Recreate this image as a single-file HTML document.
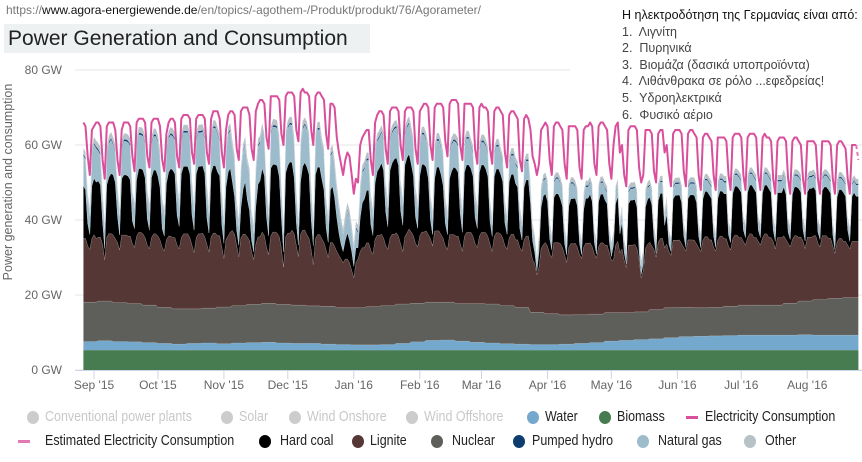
<!DOCTYPE html>
<html><head><meta charset="utf-8">
<style>
body{margin:0;background:#fff;width:862px;height:462px;overflow:hidden;position:relative;font-family:"Liberation Sans",sans-serif;}
.url{position:absolute;left:6px;top:3px;font-family:"Liberation Sans",sans-serif;font-size:12px;color:#777;}
.url b{font-weight:normal;color:#111}
.title{position:absolute;left:4px;top:24px;width:366px;height:29px;background:#eef1f2;font-family:"Liberation Sans",sans-serif;font-size:21px;color:#222;line-height:29px;padding-left:4px;box-sizing:border-box}
.greek{position:absolute;left:622px;top:7px;font-family:"Liberation Sans","Noto Sans CJK SC",sans-serif;font-size:12.5px;color:#444;line-height:16.6px}
.greek div:first-child{color:#111}
svg{position:absolute;left:0;top:0}
.li{position:absolute;white-space:nowrap;height:16px}
.dot{position:absolute;left:0;top:2px;width:12px;height:13px;border-radius:50%}
.ln{position:absolute;left:0;top:7px;width:12px;height:0;border-top:3px solid #d94f9c}
.tx{position:absolute;top:0;font-size:14.5px;line-height:16px;transform:scaleX(0.86);transform-origin:0 0;color:#222}
.off .tx{color:#c8c8c8}
</style></head><body>
<div class="url">https://<b>www.agora-energiewende.de</b>/en/topics/-agothem-/Produkt/produkt/76/Agorameter/</div>
<div class="title">Power Generation and Consumption</div>
<svg id="chart" width="862" height="462"></svg>
<div class="greek">
<div>Η ηλεκτροδότηση της Γερμανίας είναι από:</div>
<div>1.&nbsp; Λιγνίτη</div>
<div>2.&nbsp; Πυρηνικά</div>
<div>3.&nbsp; Βιομάζα (δασικά υποπροϊόντα)</div>
<div>4.&nbsp; Λιθάνθρακα σε ρόλο ...εφεδρείας!</div>
<div>5.&nbsp; Υδροηλεκτρικά</div>
<div>6.&nbsp; Φυσικό αέριο</div>
</div>
<script>
const yTicks=[0,20,40,60,80];
const yTickLabels=["0 GW","20 GW","40 GW","60 GW","80 GW"];
const monthLabels=["Sep '15","Oct '15","Nov '15","Dec '15","Jan '16","Feb '16","Mar '16","Apr '16","May '16","Jun '16","Jul '16","Aug '16"];
const monthDayIdx=[5,35,66,96,127,158,187,218,248,279,309,340];
// weekly series (one value per week starting Thu 27 Aug 2015)
const biomass=[5.3,5.3,5.3,5.3,5.3,5.3,5.3,5.3,5.3,5.3,5.3,5.3,5.3,5.3,5.3,5.3,5.3,5.3,5.3,5.3,5.3,5.3,5.3,5.3,5.3,5.3,5.3,5.3,5.3,5.3,5.3,5.3,5.3,5.3,5.3,5.3,5.3,5.3,5.3,5.3,5.3,5.3,5.3,5.3,5.3,5.3,5.3,5.3,5.3,5.3,5.3,5.3,5.3];
const water=[2.3,2.5,2.3,2.2,2.0,1.8,1.6,1.8,1.9,1.7,1.9,2.0,2.1,1.9,1.8,1.8,1.6,1.5,1.4,1.4,1.5,1.8,2.2,2.6,2.7,2.4,2.1,1.9,1.7,1.6,1.5,1.5,1.6,1.8,2.0,2.4,2.6,2.8,3.0,3.3,3.6,3.7,3.8,3.9,4.0,4.0,4.0,4.0,4.1,4.0,4.0,4.0,4.0];
const nuclear=[10.5,10.6,10.4,10.2,10.0,9.6,9.4,9.2,9.3,9.8,10.0,10.2,10.4,10.3,10.2,10.0,10.1,9.8,9.9,10.2,10.4,10.5,10.3,10.2,10.1,10.0,10.3,10.4,10.2,9.8,8.6,8.2,7.8,7.7,7.6,7.6,7.4,7.4,7.8,8.0,7.8,7.6,7.6,7.8,8.0,8.0,8.0,8.5,9.0,9.5,9.8,10.0,10.0];
const pumped=[0.5,0.5,0.5,0.5,0.5,0.5,0.5,0.5,0.5,0.5,0.5,0.5,0.5,0.5,0.5,0.5,0.5,0.5,0.5,0.5,0.5,0.5,0.5,0.5,0.5,0.5,0.5,0.5,0.5,0.5,0.4,0.4,0.4,0.4,0.4,0.4,0.4,0.4,0.4,0.4,0.4,0.4,0.4,0.4,0.4,0.4,0.4,0.4,0.4,0.4,0.4,0.4,0.4];
const other=[1.6,1.6,1.6,1.6,1.6,1.6,1.6,1.6,1.6,1.6,1.6,1.6,1.6,1.6,1.6,1.6,1.6,1.6,1.6,1.6,1.6,1.6,1.6,1.6,1.6,1.6,1.6,1.5,1.5,1.5,1.3,1.3,1.3,1.3,1.3,1.3,1.3,1.3,1.3,1.3,1.3,1.3,1.3,1.3,1.3,1.3,1.3,1.3,1.3,1.3,1.3,1.3,1.3];
// daily series
const lignite=[17,17,15,14,17,18,17, 17,17,15,11,17,18,18, 18,17,16,14,18,18,18, 18,18,16,15,18,19,19, 19,18,16,15,18,19,19, 19,18,16,15,18,19,19, 19,19,17,16,19,20,20, 20,19,17,15,19,20,20, 20,19,17,15,19,20,20, 19,19,16,13,18,19,20,
20,19,16,13,18,19,19, 18,17,14,12,16,18,18, 19,18,15,13,18,19,19, 19,18,15,10,18,19,19, 20,19,16,13,19,20,20, 19,18,15,11,18,19,19, 18,17,15,13,17,17,16, 15,14,13,12,13,13,12, 10,8,12,13,15,16,16, 17,17,15,14,18,19,19,
19,18,16,15,18,19,19, 19,18,16,14,18,19,20, 19,18,16,15,18,19,19, 19,18,17,15,19,19,19, 18,17,15,14,18,18,18, 18,18,16,14,18,19,19, 19,18,16,15,18,19,19, 19,18,16,14,18,19,19, 19,18,16,15,18,19,19, 18,18,16,15,18,19,19,
17,14,13,10,12,17,18, 19,18,16,15,19,19,19, 19,18,16,14,18,19,19, 19,18,16,15,18,19,19, 19,18,16,15,18,19,19, 18,18,16,14,14,18,19, 16,17,14,12,18,18,18, 18,17,14,9,11,17,18, 18,17,16,14,18,19,19, 16,17,15,14,18,18,18,
18,17,16,15,18,18,18, 18,17,16,15,18,19,19, 18,18,16,15,18,19,19, 18,18,16,15,18,19,19, 18,18,17,16,18,19,19, 18,18,17,16,18,19,19, 18,18,17,15,18,18,18, 18,17,16,15,17,18,18, 17,17,16,14,17,17,17, 17,17,15,14,17,17,17,
16,16,14,12,15,16,16, 15,15,14,13,15,15,15, 15];
const hardCoal=[14,13,6,4,14,15,15, 15,14,6,3,14,15,16, 16,15,7,4,15,16,16, 16,15,6,5,15,17,17, 17,16,7,5,16,17,17, 16,14,5,4,15,17,18, 18,17,8,6,17,18,18, 18,17,8,6,17,18,18, 18,17,7,5,17,18,18, 17,16,6,4,14,17,17,
13,10,4,3,8,12,14, 10,8,3,2,10,14,15, 17,16,8,5,18,18,18, 18,16,8,4,17,18,19, 18,15,6,3,14,17,18, 18,17,8,5,17,18,18, 16,14,6,4,14,15,13, 9,6,4,3,5,7,6, 5,3,4,3,9,12,13, 14,14,7,5,15,17,18,
19,18,9,6,18,19,20, 20,19,9,7,19,20,20, 18,16,7,5,16,18,18, 17,15,5,3,14,17,17, 16,14,6,4,15,17,18, 18,17,8,5,17,18,18, 17,16,7,5,17,18,18, 17,16,6,4,16,17,17, 16,15,6,4,15,16,16, 15,14,5,3,14,15,15,
12,5,3,1,4,11,13, 13,12,4,2,12,13,13, 12,11,3,2,11,12,12, 12,11,3,1,10,12,12, 13,12,3,1,12,13,13, 12,11,3,1,4,11,12, 5,7,2,1,11,12,12, 12,11,2,1,2,11,12, 12,11,3,1,11,12,12, 6,8,2,1,11,12,12,
12,11,3,1,11,12,12, 12,11,3,1,11,12,12, 12,11,3,1,11,12,12, 12,12,3,2,12,13,13, 13,12,3,2,12,13,13, 13,12,3,2,12,13,13, 13,12,3,2,12,12,12, 13,12,3,2,12,13,13, 13,12,3,2,12,13,13, 13,12,3,2,12,13,13,
13,12,3,1,12,13,13, 13,12,4,2,12,13,12, 12];
const naturalGas=[8,8,6,5,8,9,9, 8,8,6,5,8,9,9, 8,8,6,5,8,9,9, 9,9,6,5,9,9,9, 9,9,6,5,9,9,9, 9,8,6,5,9,9,9, 9,9,7,5,9,9,9, 9,9,7,5,9,9,9, 9,9,7,5,9,10,10, 10,9,7,5,9,10,10,
9,9,6,5,9,10,10, 9,9,6,5,9,10,10, 10,9,7,5,9,10,10, 10,9,7,5,9,10,10, 10,9,7,5,9,10,10, 10,9,7,5,9,10,10, 9,9,6,5,9,9,8, 7,6,5,4,5,6,6, 5,4,5,4,7,8,8, 8,8,6,5,8,8,8,
8,8,6,5,8,8,8, 8,8,6,5,8,8,8, 8,8,6,5,8,8,8, 7,7,5,4,7,7,7, 7,7,5,4,7,7,7, 7,7,5,4,7,7,7, 6,6,5,4,6,6,6, 6,6,4,3,6,6,6, 5,5,4,3,5,5,5, 5,5,4,3,5,5,5,
4,3,3,2,3,4,4, 4,4,3,2,4,4,4, 4,4,3,2,4,4,4, 3,3,2,2,3,3,3, 3,3,2,2,3,3,3, 3,3,2,2,2,3,3, 2,3,2,2,3,3,3, 3,3,2,2,2,3,3, 3,3,2,2,3,3,3, 2,3,2,2,3,3,3,
3,3,2,2,3,3,3, 3,3,2,2,3,3,3, 3,3,2,2,3,3,3, 3,3,2,2,3,3,3, 3,3,2,2,3,3,3, 3,3,2,2,3,3,3, 3,3,2,2,3,3,3, 3,3,2,2,3,3,3, 3,3,2,2,3,3,3, 3,3,2,2,3,3,3,
3,3,2,2,3,3,3, 3,3,2,2,3,3,3, 3];
const consumption=[66,65,57,52,64,65,66, 66,65,56,51,65,66,66, 66,64,56,52,64,66,66, 66,65,57,53,66,67,67, 67,66,57,54,66,67,67, 67,65,56,53,63,66,67, 67,66,57,54,67,68,68, 68,67,58,55,67,68,68, 68,67,58,55,67,69,69, 69,67,58,54,64,68,69,
69,68,59,56,69,70,70, 70,68,59,56,69,71,72, 72,71,62,59,73,73,73, 73,72,63,60,73,74,74, 74,73,64,61,74,75,74, 74,73,64,60,73,74,74, 73,72,63,59,71,71,70, 62,58,55,52,56,58,57, 52,47,51,50,60,62,63, 64,64,56,52,66,68,69,
69,68,59,55,69,70,70, 70,69,60,56,69,70,70, 70,69,59,55,69,70,71, 71,70,60,56,70,71,71, 71,70,61,57,71,72,72, 72,71,60,56,71,71,71, 71,70,59,55,70,71,70, 70,69,59,55,69,70,70, 69,68,58,54,68,69,69, 68,67,56,53,67,68,67,
64,57,55,52,55,64,65, 66,65,56,52,65,66,66, 65,64,55,51,65,65,65, 65,64,54,51,64,65,65, 66,65,55,52,65,66,66, 65,64,55,51,60,65,66, 58,60,52,49,64,65,65, 65,64,54,50,52,64,64, 64,63,53,50,63,64,64, 58,60,53,49,63,64,64,
64,63,53,49,63,64,64, 63,62,52,48,62,63,63, 62,61,52,48,62,62,62, 62,61,52,48,62,63,63, 63,62,52,48,62,63,63, 63,62,52,48,62,63,62, 62,61,51,47,61,62,62, 62,61,51,47,61,62,62, 61,60,51,47,61,61,61, 61,60,51,47,61,61,61,
61,60,51,47,60,61,61, 60,59,51,47,60,60,60, 56];
const estimatedStart=363;

const NS="http://www.w3.org/2000/svg";
const svg=document.getElementById('chart');
const x0=83.4, dx=2.129, yBase=370, yPx=3.75;
const xS=i=>x0+i*dx;
const yS=v=>yBase-v*yPx;
function mk(tag,attrs){const e=document.createElementNS(NS,tag);for(const k in attrs)e.setAttribute(k,attrs[k]);svg.appendChild(e);return e;}

yTicks.forEach((t,k)=>{
  const g=mk('line',{x1:75,x2:t===80?570:862,y1:yS(t),y2:yS(t),stroke:'#e6e6e6','stroke-width':1});
  
  
  const tx=mk('text',{x:62,y:yS(t)+4,'text-anchor':'end','font-size':12,fill:'#666','font-family':'Liberation Sans, sans-serif'});
  tx.textContent=yTickLabels[k];
  
  
});
const yt=mk('text',{x:0,y:0,transform:'translate(12,182) rotate(-90)','text-anchor':'middle','font-size':12.5,fill:'#666','font-family':'Liberation Sans, sans-serif'});
yt.textContent='Power generation and consumption';



const n=consumption.length;
const layers=[
 {name:'biomass',get:i=>biomass[Math.floor(i/7)],color:'#477b50'},
 {name:'water',get:i=>water[Math.floor(i/7)],color:'#74a8cd'},
 {name:'nuclear',get:i=>nuclear[Math.floor(i/7)],color:'#5e5f5a'},
 {name:'lignite',get:i=>lignite[i],color:'#553735'},
 {name:'hard-coal',get:i=>hardCoal[i],color:'#000000'},
 {name:'natural-gas',get:i=>naturalGas[i],color:'#9dbccb'},
 {name:'pumped-hydro',get:i=>pumped[Math.floor(i/7)],color:'#0d3c6e'},
 {name:'other',get:i=>other[Math.floor(i/7)],color:'#b7c1c8'}
];
let base=new Array(n).fill(0);
layers.forEach(L=>{
  const top=base.map((b,i)=>b+L.get(i));
  let d='M'+xS(0)+','+yS(top[0]);
  for(let i=1;i<n;i++)d+='L'+xS(i).toFixed(1)+','+yS(top[i]).toFixed(1);
  for(let i=n-1;i>=0;i--)d+='L'+xS(i).toFixed(1)+','+yS(base[i]).toFixed(1);
  d+='Z';
  const p=mk('path',{d:d,fill:L.color,stroke:L.name==='biomass'||L.name==='water'?'none':'rgba(255,255,255,0.25)','stroke-width':0.5});
  
  
  base=top;
});

let dc='';
for(let i=0;i<=estimatedStart;i++)dc+=(i?'L':'M')+xS(i).toFixed(1)+','+yS(consumption[i]).toFixed(1);
const cl=mk('path',{d:dc,fill:'none',stroke:'#d94f9c','stroke-width':2,'stroke-linejoin':'round'});


let de='';
for(let i=estimatedStart;i<n;i++)de+=(i===estimatedStart?'M':'L')+xS(i).toFixed(1)+','+yS(consumption[i]).toFixed(1);
const el=mk('path',{d:de,fill:'none',stroke:'#e07ab4','stroke-width':2,'stroke-dasharray':'4,3'});



const ax=mk('line',{x1:75,x2:862,y1:370.5,y2:370.5,stroke:'#ccd6eb','stroke-width':1});


monthLabels.forEach((m,k)=>{
  const xx=xS(monthDayIdx[k]);
  const t=mk('line',{x1:xx,x2:xx,y1:371,y2:379,stroke:'#ccd6eb','stroke-width':1});
  
  
  const tx=mk('text',{x:xx,y:389,'text-anchor':'middle','font-size':12,fill:'#666','font-family':'Liberation Sans, sans-serif'});
  tx.textContent=m;
  
  
});
</script>

<div style="position:absolute;left:0;top:405px;width:862px;height:50px;">
<div class="li off" style="left:27px;top:4px"><span class="dot" style="background:#ccc"></span><span class="tx" style="left:18px">Conventional power plants</span></div>
<div class="li off" style="left:221px;top:4px"><span class="dot" style="background:#ccc"></span><span class="tx" style="left:18px">Solar</span></div>
<div class="li off" style="left:289px;top:4px"><span class="dot" style="background:#ccc"></span><span class="tx" style="left:18px">Wind Onshore</span></div>
<div class="li off" style="left:406px;top:4px"><span class="dot" style="background:#ccc"></span><span class="tx" style="left:18px">Wind Offshore</span></div>
<div class="li" style="left:527px;top:4px"><span class="dot" style="background:#74a8cd"></span><span class="tx" style="left:18px">Water</span></div>
<div class="li" style="left:599px;top:4px"><span class="dot" style="background:#477b50"></span><span class="tx" style="left:18px">Biomass</span></div>
<div class="li" style="left:686px;top:4px"><span class="ln"></span><span class="tx" style="left:19px">Electricity Consumption</span></div>
<div class="li" style="left:18px;top:28px"><span class="ln" style="border-top:3px dashed #e07ab4"></span><span class="tx" style="left:27px">Estimated Electricity Consumption</span></div>
<div class="li" style="left:259px;top:28px"><span class="dot" style="background:#000"></span><span class="tx" style="left:21px">Hard coal</span></div>
<div class="li" style="left:352px;top:28px"><span class="dot" style="background:#553735"></span><span class="tx" style="left:18px">Lignite</span></div>
<div class="li" style="left:431px;top:28px"><span class="dot" style="background:#5e5f5a"></span><span class="tx" style="left:21px">Nuclear</span></div>
<div class="li" style="left:513px;top:28px"><span class="dot" style="background:#0d3c6e"></span><span class="tx" style="left:19px">Pumped hydro</span></div>
<div class="li" style="left:637px;top:28px"><span class="dot" style="background:#9dbccb"></span><span class="tx" style="left:21px">Natural gas</span></div>
<div class="li" style="left:744px;top:28px"><span class="dot" style="background:#b7c1c8"></span><span class="tx" style="left:21px">Other</span></div>
</div>
</body></html>
